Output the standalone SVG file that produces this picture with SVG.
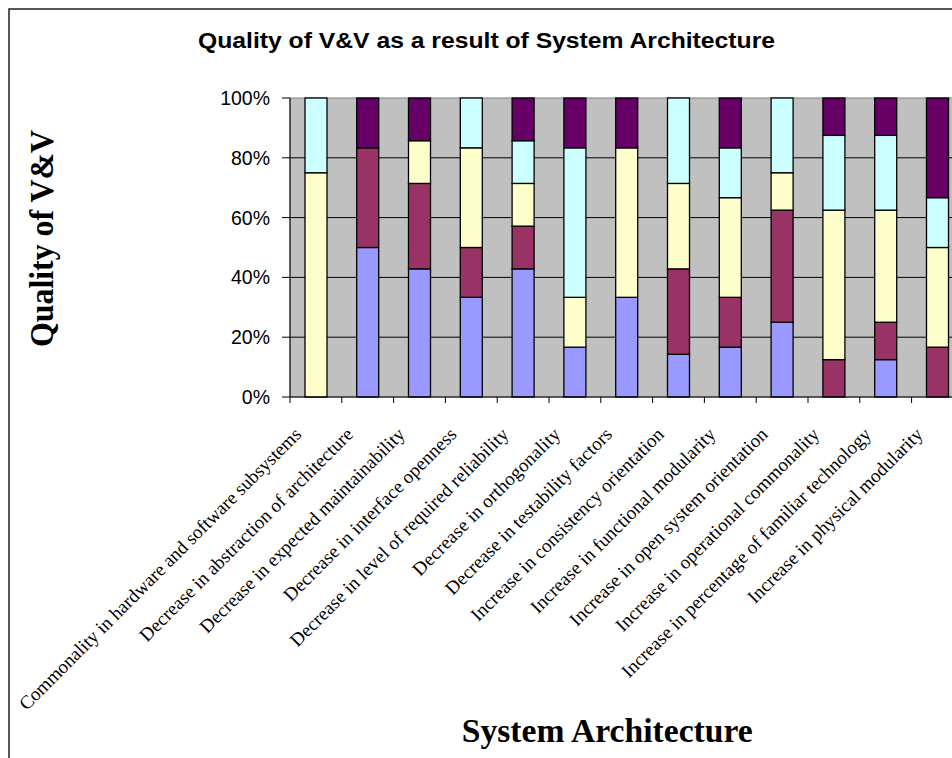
<svg xmlns="http://www.w3.org/2000/svg" width="952" height="758" viewBox="0 0 952 758">
<style>
.b{fill:#9999FF;stroke:#000;stroke-width:1.3}
.p{fill:#993366;stroke:#000;stroke-width:1.3}
.y{fill:#FFFFCC;stroke:#000;stroke-width:1.3}
.c{fill:#CCFFFF;stroke:#000;stroke-width:1.3}
.d{fill:#660066;stroke:#000;stroke-width:1.3}
.grid{stroke:#000;stroke-width:1;fill:none}
.tick{stroke:#000;stroke-width:1;fill:none}
.ylab{font-family:"Liberation Sans",Arial,sans-serif;font-size:19.5px;text-anchor:end;fill:#000}
.xlab{font-family:"Liberation Serif","Times New Roman",serif;font-size:19px;text-anchor:end;fill:#000}
.title{font-family:"Liberation Sans",Arial,sans-serif;font-size:22px;font-weight:bold;fill:#000}
.axt{font-family:"Liberation Serif","Times New Roman",serif;font-size:33px;font-weight:bold;fill:#000}
</style>
<rect x="0" y="0" width="952" height="758" fill="#fff"/>
<rect id="frame" x="9" y="9" width="1000" height="800" fill="#fff" stroke="#222" stroke-width="1.5"/>
<text id="title" class="title" x="198" y="48" textLength="577" lengthAdjust="spacingAndGlyphs">Quality of V&amp;V as a result of System Architecture</text>
<g id="plot">
<rect x="290" y="98" width="680" height="299" fill="#C0C0C0" stroke="#808080" stroke-width="1"/>
<g class="grid">
<line x1="290" y1="157.8" x2="970" y2="157.8"/>
<line x1="290" y1="217.6" x2="970" y2="217.6"/>
<line x1="290" y1="277.4" x2="970" y2="277.4"/>
<line x1="290" y1="337.2" x2="970" y2="337.2"/>
</g>
</g>
<g id="bars">
<g id="bar0"><rect class="y" x="305" y="172.75" width="22" height="224.25"/><rect class="c" x="305" y="98" width="22" height="74.75"/></g>
<g id="bar1"><rect class="b" x="356.7" y="247.5" width="22" height="149.5"/><rect class="p" x="356.7" y="147.83" width="22" height="99.67"/><rect class="d" x="356.7" y="98" width="22" height="49.83"/></g>
<g id="bar2"><rect class="b" x="408.5" y="268.86" width="22" height="128.14"/><rect class="p" x="408.5" y="183.43" width="22" height="85.43"/><rect class="y" x="408.5" y="140.71" width="22" height="42.72"/><rect class="d" x="408.5" y="98" width="22" height="42.71"/></g>
<g id="bar3"><rect class="b" x="460.3" y="297.33" width="22" height="99.67"/><rect class="p" x="460.3" y="247.5" width="22" height="49.83"/><rect class="y" x="460.3" y="147.83" width="22" height="99.67"/><rect class="c" x="460.3" y="98" width="22" height="49.83"/></g>
<g id="bar4"><rect class="b" x="512.1" y="268.86" width="22" height="128.14"/><rect class="p" x="512.1" y="226.14" width="22" height="42.72"/><rect class="y" x="512.1" y="183.43" width="22" height="42.71"/><rect class="c" x="512.1" y="140.71" width="22" height="42.72"/><rect class="d" x="512.1" y="98" width="22" height="42.71"/></g>
<g id="bar5"><rect class="b" x="563.9" y="347.17" width="22" height="49.83"/><rect class="y" x="563.9" y="297.33" width="22" height="49.84"/><rect class="c" x="563.9" y="147.83" width="22" height="149.5"/><rect class="d" x="563.9" y="98" width="22" height="49.83"/></g>
<g id="bar6"><rect class="b" x="615.7" y="297.33" width="22" height="99.67"/><rect class="y" x="615.7" y="147.83" width="22" height="149.5"/><rect class="d" x="615.7" y="98" width="22" height="49.83"/></g>
<g id="bar7"><rect class="b" x="667.5" y="354.29" width="22" height="42.71"/><rect class="p" x="667.5" y="268.86" width="22" height="85.43"/><rect class="y" x="667.5" y="183.43" width="22" height="85.43"/><rect class="c" x="667.5" y="98" width="22" height="85.43"/></g>
<g id="bar8"><rect class="b" x="719.3" y="347.17" width="22" height="49.83"/><rect class="p" x="719.3" y="297.33" width="22" height="49.84"/><rect class="y" x="719.3" y="197.67" width="22" height="99.66"/><rect class="c" x="719.3" y="147.83" width="22" height="49.84"/><rect class="d" x="719.3" y="98" width="22" height="49.83"/></g>
<g id="bar9"><rect class="b" x="771.1" y="322.25" width="22" height="74.75"/><rect class="p" x="771.1" y="210.125" width="22" height="112.125"/><rect class="y" x="771.1" y="172.75" width="22" height="37.375"/><rect class="c" x="771.1" y="98" width="22" height="74.75"/></g>
<g id="bar10"><rect class="p" x="822.9" y="359.625" width="22" height="37.375"/><rect class="y" x="822.9" y="210.125" width="22" height="149.5"/><rect class="c" x="822.9" y="135.375" width="22" height="74.75"/><rect class="d" x="822.9" y="98" width="22" height="37.375"/></g>
<g id="bar11"><rect class="b" x="874.7" y="359.625" width="22" height="37.375"/><rect class="p" x="874.7" y="322.25" width="22" height="37.375"/><rect class="y" x="874.7" y="210.125" width="22" height="112.125"/><rect class="c" x="874.7" y="135.375" width="22" height="74.75"/><rect class="d" x="874.7" y="98" width="22" height="37.375"/></g>
<g id="bar12"><rect class="p" x="926.5" y="347.17" width="22" height="49.83"/><rect class="y" x="926.5" y="247.5" width="22" height="99.67"/><rect class="c" x="926.5" y="197.67" width="22" height="49.83"/><rect class="d" x="926.5" y="98" width="22" height="99.67"/></g>
</g>
<g id="axes">
<line class="tick" x1="290" y1="98" x2="290" y2="403"/>
<line class="tick" x1="290" y1="397" x2="970" y2="397"/>
<g class="tick">
<line x1="282" y1="98" x2="290" y2="98"/>
<line x1="282" y1="157.8" x2="290" y2="157.8"/>
<line x1="282" y1="217.6" x2="290" y2="217.6"/>
<line x1="282" y1="277.4" x2="290" y2="277.4"/>
<line x1="282" y1="337.2" x2="290" y2="337.2"/>
<line x1="282" y1="397" x2="290" y2="397"/>
<line x1="341.8" y1="397" x2="341.8" y2="403"/>
<line x1="393.6" y1="397" x2="393.6" y2="403"/>
<line x1="445.4" y1="397" x2="445.4" y2="403"/>
<line x1="497.2" y1="397" x2="497.2" y2="403"/>
<line x1="549" y1="397" x2="549" y2="403"/>
<line x1="600.8" y1="397" x2="600.8" y2="403"/>
<line x1="652.6" y1="397" x2="652.6" y2="403"/>
<line x1="704.4" y1="397" x2="704.4" y2="403"/>
<line x1="756.2" y1="397" x2="756.2" y2="403"/>
<line x1="808" y1="397" x2="808" y2="403"/>
<line x1="859.8" y1="397" x2="859.8" y2="403"/>
<line x1="911.6" y1="397" x2="911.6" y2="403"/>
</g>
</g>
<g id="ylabels">
<text class="ylab" x="270" y="105">100%</text>
<text class="ylab" x="270" y="164.8">80%</text>
<text class="ylab" x="270" y="224.6">60%</text>
<text class="ylab" x="270" y="284.4">40%</text>
<text class="ylab" x="270" y="344.2">20%</text>
<text class="ylab" x="270" y="404">0%</text>
</g>
<g id="xlabels">
<text class="xlab" transform="translate(302.4,435.5) rotate(-45)" textLength="390">Commonality in hardware and software subsystems</text>
<text class="xlab" transform="translate(354.2,435.5) rotate(-45)" textLength="293">Decrease in abstraction of architecture</text>
<text class="xlab" transform="translate(406,435.5) rotate(-45)" textLength="281">Decrease in expected maintainability</text>
<text class="xlab" transform="translate(457.8,435.5) rotate(-45)" textLength="236">Decrease in interface openness</text>
<text class="xlab" transform="translate(509.6,435.5) rotate(-45)" textLength="300">Decrease in level of required reliability</text>
<text class="xlab" transform="translate(561.4,435.5) rotate(-45)" textLength="200">Decrease in orthogonality</text>
<text class="xlab" transform="translate(613.2,435.5) rotate(-45)" textLength="227">Decrease in testability factors</text>
<text class="xlab" transform="translate(665,435.5) rotate(-45)" textLength="264">Increase in consistency orientation</text>
<text class="xlab" transform="translate(716.8,435.5) rotate(-45)" textLength="253">Increase in functional modularity</text>
<text class="xlab" transform="translate(768.6,435.5) rotate(-45)" textLength="271">Increase in open system orientation</text>
<text class="xlab" transform="translate(820.4,435.5) rotate(-45)" textLength="279">Increase in operational commonality</text>
<text class="xlab" transform="translate(872.2,435.5) rotate(-45)" textLength="344">Increase in percentage of familiar technology</text>
<text class="xlab" transform="translate(924,435.5) rotate(-45)" textLength="239">Increase in physical modularity</text>
</g>
<text id="ytitle" class="axt" transform="translate(53,238.5) rotate(-90)" text-anchor="middle" textLength="217" lengthAdjust="spacingAndGlyphs">Quality of V&amp;V</text>
<text id="xtitle" class="axt" x="461.7" y="741.5" textLength="291" lengthAdjust="spacingAndGlyphs">System Architecture</text>
</svg>
